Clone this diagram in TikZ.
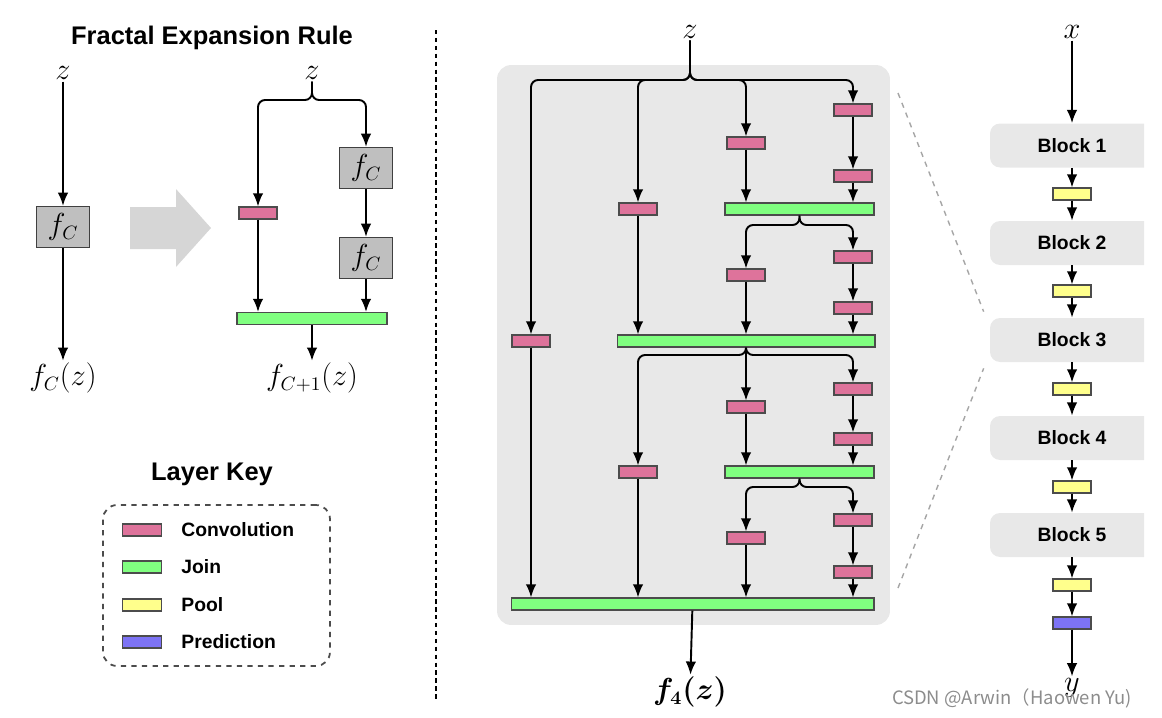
\documentclass[tikz,border=0pt]{standalone}
\usepackage{fontspec}
\setsansfont{Liberation Sans}
\newfontfamily\cjkfont{Noto Sans CJK SC}
\usepackage{bm}
\usepackage{tikz}
\usetikzlibrary{positioning,arrows.meta}

\definecolor{convpink}{RGB}{222,115,155}
\definecolor{joingreen}{RGB}{128,255,128}
\definecolor{poolyellow}{RGB}{255,255,140}
\definecolor{predblue}{RGB}{125,115,245}
\definecolor{panelgray}{RGB}{232,232,232}

\tikzset{
    arr/.style={-{Latex[length=7.5pt,width=6pt]},line width=1.1pt},
    layer/.style={draw=black!70,line width=0.6pt,inner sep=0,minimum height=0.24cm},
    conv/.style={layer,fill=convpink,minimum width=0.76cm},
    joinbar/.style={layer,fill=joingreen},
    pool/.style={layer,fill=poolyellow,minimum width=0.76cm},
    pred/.style={layer,fill=predblue,minimum width=0.76cm},
    fbox/.style={draw=black!75,line width=0.7pt,fill=black!25,minimum width=1.06cm,minimum height=0.82cm,font=\fontsize{16}{18}\selectfont},
    mlabel/.style={font=\fontsize{16}{18}\selectfont,inner sep=1pt},
    title/.style={font=\sffamily\bfseries\fontsize{14.5}{17}\selectfont},
    keytxt/.style={font=\sffamily\bfseries\fontsize{11}{13}\selectfont,inner sep=0},
    block/.style={fill=panelgray,rounded corners=0.2cm,minimum width=3.28cm,minimum height=0.88cm,font=\sffamily\bfseries\fontsize{11}{13}\selectfont},
}

\begin{document}
\begin{tikzpicture}[x=0.02cm,y=-0.02cm]
    \useasboundingbox (0,0) rectangle (1162,717);

    % fractal expansion rule
    \node[title] (ruleT) at (212,38) {Fractal Expansion Rule};
    \node[mlabel] (zA) at (63,73) {$z$};
    \node[fbox] (fA) at (63,227) {$f_C$};
    \node[mlabel] (outA) at (63,378) {$f_C(z)$};
    \draw[arr] (zA) -- (fA);
    \draw[arr] (fA) -- (outA);

    \fill[black!16] (130,207) -- (176,207) -- (176,189) -- (211,228) -- (176,267) -- (176,249) -- (130,249) -- cycle;

    \node[mlabel] (zB) at (312,73) {$z$};
    \coordinate (bB) at (312,100);
    \node[conv] (cB) at (258,213) {};
    \node[fbox] (fB1) at (366,168) {$f_C$};
    \node[fbox] (fB2) at (366,258) {$f_C$};
    \node[joinbar,minimum width=3cm] (jB) at (312,318.5) {};
    \node[mlabel] (outB) at (312,378) {$f_{C+1}(z)$};
    \draw[arr,rounded corners=4pt] (zB) -- (bB) -| (cB);
    \draw[arr,rounded corners=4pt] (zB) -- (bB) -| (fB1);
    \draw[arr] (fB1) -- (fB2);
    \draw[arr] (fB2) -- (fB2 |- jB.north);
    \draw[arr] (cB) -- (cB |- jB.north);
    \draw[arr] (jB) -- (outB);

    % layer key
    \node[title] (keyT) at (212,474) {Layer Key};
    \node[draw=black!70,dashed,line width=1pt,rounded corners=8pt,minimum width=4.54cm,minimum height=3.22cm] (keyBox) at (216.5,585.5) {};
    \node[conv,minimum width=0.78cm] (kConv) at (142,530) {};
    \node[joinbar,minimum width=0.78cm] (kJoin) at (142,567) {};
    \node[pool,minimum width=0.78cm] (kPool) at (142,605) {};
    \node[pred,minimum width=0.78cm] (kPred) at (142,642) {};
    \node[keytxt,right=0.38cm of kConv] {Convolution};
    \node[keytxt,right=0.38cm of kJoin] {Join};
    \node[keytxt,right=0.38cm of kPool] {Pool};
    \node[keytxt,right=0.38cm of kPred] {Prediction};

    \draw[line width=1.4pt,dash pattern=on 2.5pt off 2pt] (436,30) -- (436,700);

    % fractal block
    \node[fill=panelgray,rounded corners=8pt,minimum width=7.86cm,minimum height=11.2cm] (panel) at (693.5,345) {};
    \node[mlabel] (zM) at (690,32) {$z$};
    \coordinate (bt) at (690,80);
    \node[conv] (m1) at (531,341) {};
    \node[conv] (m2) at (638,209) {};
    \node[conv] (m3) at (746,143) {};
    \node[conv] (m4) at (853,110) {};
    \node[conv] (m5) at (853,176) {};
    \node[joinbar,minimum width=2.98cm] (j1) at (799.5,209) {};
    \coordinate (b1) at (799.5,225);
    \node[conv] (m6) at (746,275) {};
    \node[conv] (m7) at (853,257) {};
    \node[conv] (m8) at (853,308) {};
    \node[joinbar,minimum width=5.16cm] (j2) at (746,341) {};
    \coordinate (b2) at (746,355);
    \node[conv] (m9) at (746,407) {};
    \node[conv] (m10) at (638,472) {};
    \node[conv] (m11) at (853,389) {};
    \node[conv] (m12) at (853,439) {};
    \node[joinbar,minimum width=2.98cm] (j3) at (799.5,472) {};
    \coordinate (b3) at (799.5,487);
    \node[conv] (m13) at (746,538) {};
    \node[conv] (m14) at (853,520) {};
    \node[conv] (m15) at (853,572) {};
    \node[joinbar,minimum width=7.26cm] (j4) at (692.5,604) {};
    \node[mlabel] (outM) at (690,692) {$\bm{f_4(z)}$};

    \foreach \m in {m1,m2,m3,m4}
        \draw[arr,rounded corners=4pt] (zM) -- (bt) -| (\m);
    \draw[arr] (m4) -- (m5);
    \draw[arr] (m3) -- (m3 |- j1.north);
    \draw[arr] (m5) -- (m5 |- j1.north);
    \foreach \m in {m6,m7}
        \draw[arr,rounded corners=4pt] (j1) -- (b1) -| (\m);
    \draw[arr] (m7) -- (m8);
    \draw[arr] (m2) -- (m2 |- j2.north);
    \draw[arr] (m6) -- (m6 |- j2.north);
    \draw[arr] (m8) -- (m8 |- j2.north);
    \foreach \m in {m10,m11}
        \draw[arr,rounded corners=4pt] (j2) -- (b2) -| (\m);
    \draw[arr] (j2) -- (m9);
    \draw[arr] (m11) -- (m12);
    \draw[arr] (m9) -- (m9 |- j3.north);
    \draw[arr] (m12) -- (m12 |- j3.north);
    \foreach \m in {m13,m14}
        \draw[arr,rounded corners=4pt] (j3) -- (b3) -| (\m);
    \draw[arr] (m14) -- (m15);
    \foreach \m in {m1,m10,m13,m15}
        \draw[arr] (\m) -- (\m |- j4.north);
    \draw[arr] (j4) -- (outM);

    % full network
    \node[mlabel] (xR) at (1072,32) {$x$};
    \begin{scope}
        \clip (980,100) rectangle (1144,570);
        \node[block] (B1) at (1072,145.5) {Block 1};
        \node[block] (B2) at (1072,243) {Block 2};
        \node[block] (B3) at (1072,340) {Block 3};
        \node[block] (B4) at (1072,438) {Block 4};
        \node[block] (B5) at (1072,535) {Block 5};
    \end{scope}
    \node[pool] (P1) at (1072,194) {};
    \node[pool] (P2) at (1072,291) {};
    \node[pool] (P3) at (1072,389) {};
    \node[pool] (P4) at (1072,487) {};
    \node[pool] (P5) at (1072,585) {};
    \node[pred] (Pr) at (1072,623) {};
    \node[mlabel] (yR) at (1072,688) {$y$};
    \draw[arr] (xR) -- (B1);
    \foreach \b/\p/\n in {B1/P1/B2,B2/P2/B3,B3/P3/B4,B4/P4/B5}{
        \draw[arr] (\b) -- (\p);
        \draw[arr] (\p) -- (\n);
    }
    \draw[arr] (B5) -- (P5);
    \draw[arr] (P5) -- (Pr);
    \draw[arr] (Pr) -- (yR);

    \coordinate (zoomA) at (898,93);
    \coordinate (zoomB) at (898,588);
    \draw[dashed,black!35,line width=0.8pt] (zoomA) -- ([shift={(-6,-6)}]B3.north west);
    \draw[dashed,black!35,line width=0.8pt] (zoomB) -- ([shift={(-6,6)}]B3.south west);

    \node[font=\cjkfont\fontsize{10.5}{12}\selectfont,text=black!45] (mark) at (1012,698) {CSDN @Arwin（Haowen Yu)};
\end{tikzpicture}
\end{document}
